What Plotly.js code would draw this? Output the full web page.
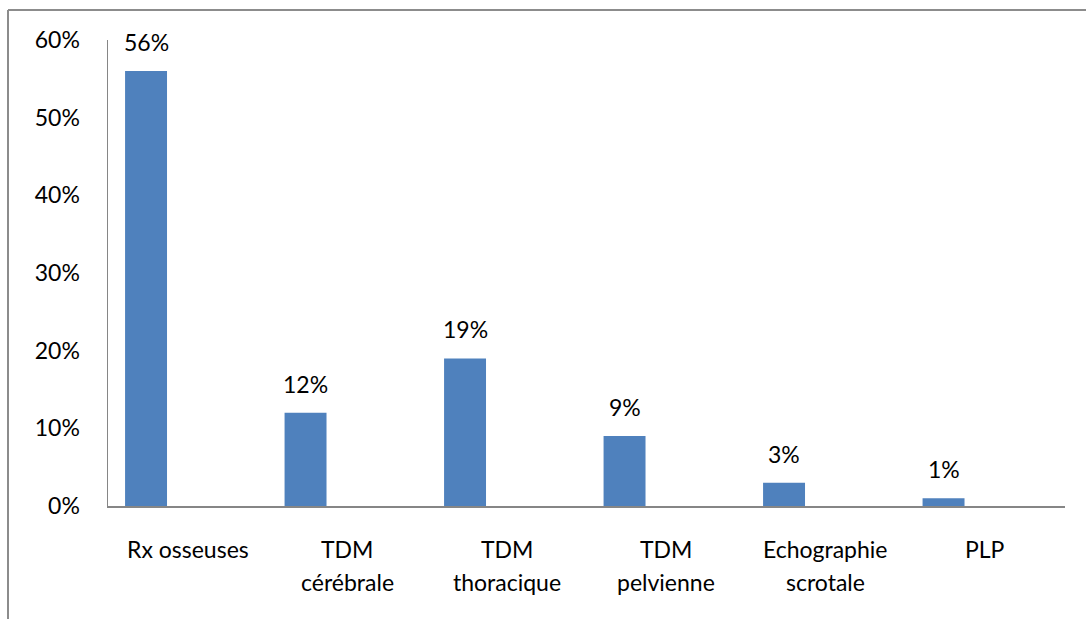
<!DOCTYPE html>
<html>
<head>
<meta charset="utf-8">
<script src="https://cdn.plot.ly/plotly-3.0.1.min.js"></script>
<style>
  html, body { margin: 0; padding: 0; background: #fff; }
  #chart { width: 1086px; height: 619px; }
</style>
</head>
<body>
<div id="chart"></div>
<script>
// Examens d'imagerie réalisés (% des patients)
const categories = ['Rx osseuses', 'TDM cérébrale', 'TDM thoracique', 'TDM pelvienne', 'Echographie scrotale', 'PLP'];
const labelLines = [['Rx osseuses'], ['TDM', 'cérébrale'], ['TDM', 'thoracique'], ['TDM', 'pelvienne'], ['Echographie', 'scrotale'], ['PLP']];
const values = [56, 12, 19, 9, 3, 1];
const yTicks = [0, 10, 20, 30, 40, 50, 60];

const FONT = 'Lato, "Open Sans", sans-serif';
const FS = 23;
const BAR_COLOR = '#4F81BD';
const AXIS_COLOR = '#868686';
const BAR_OFFSET = -0.393;
const BAR_WIDTH = 0.263;

const idx = categories.map((_, i) => i);

const trace = {
  type: 'bar',
  x: idx,
  y: values,
  offset: BAR_OFFSET,
  width: BAR_WIDTH,
  marker: { color: BAR_COLOR, line: { width: 0 } },
  hoverinfo: 'skip'
};

const annotations = [];
// value labels above each bar
values.forEach((v, i) => {
  annotations.push({
    x: i + BAR_OFFSET + BAR_WIDTH / 2, y: v, xref: 'x', yref: 'y',
    text: v + '%', showarrow: false, yanchor: 'bottom', yshift: 13,
    font: { family: FONT, size: FS, color: '#000' }
  });
});
// category labels, one annotation per line
labelLines.forEach((lines, i) => {
  lines.forEach((t, k) => {
    annotations.push({
      x: i, y: 0, xref: 'x', yref: 'paper',
      text: t, showarrow: false, yanchor: 'top', yshift: -27 - 33 * k,
      font: { family: FONT, size: FS, color: '#000' }
    });
  });
});

const W = 1086, H = 619;
const m = { l: 108, r: 21, t: 40, b: 113 };
const pw = W - m.l - m.r, ph = H - m.t - m.b;
const px = x => (x - m.l) / pw;
const py = y => (H - m.b - y) / ph;

const layout = {
  width: W, height: H,
  margin: m,
  paper_bgcolor: '#fff', plot_bgcolor: '#fff',
  showlegend: false,
  font: { family: FONT, size: FS, color: '#000' },
  xaxis: {
    range: [-0.5, categories.length - 0.5],
    showticklabels: false, ticks: '', showgrid: false, zeroline: false,
    showline: true, linecolor: AXIS_COLOR, linewidth: 1.5, fixedrange: true
  },
  yaxis: {
    range: [0, 60],
    tickvals: yTicks, ticktext: yTicks.map(v => v + '%'),
    ticks: '', showgrid: false, zeroline: false,
    showline: true, linecolor: AXIS_COLOR, linewidth: 1.5,
    ticklabelstandoff: 22,
    tickfont: { family: FONT, size: FS, color: '#000' }, fixedrange: true
  },
  annotations: annotations,
  shapes: [
    { type: 'line', xref: 'paper', yref: 'paper', x0: px(8), x1: px(8), y0: py(10), y1: py(H + 5),
      line: { color: '#8c8c8c', width: 2 } },
    { type: 'line', xref: 'paper', yref: 'paper', x0: px(8), x1: px(W + 5), y0: py(10), y1: py(10),
      line: { color: '#8c8c8c', width: 2 } }
  ]
};

Plotly.newPlot('chart', [trace], layout, { displayModeBar: false, staticPlot: true });
</script>
</body>
</html>
